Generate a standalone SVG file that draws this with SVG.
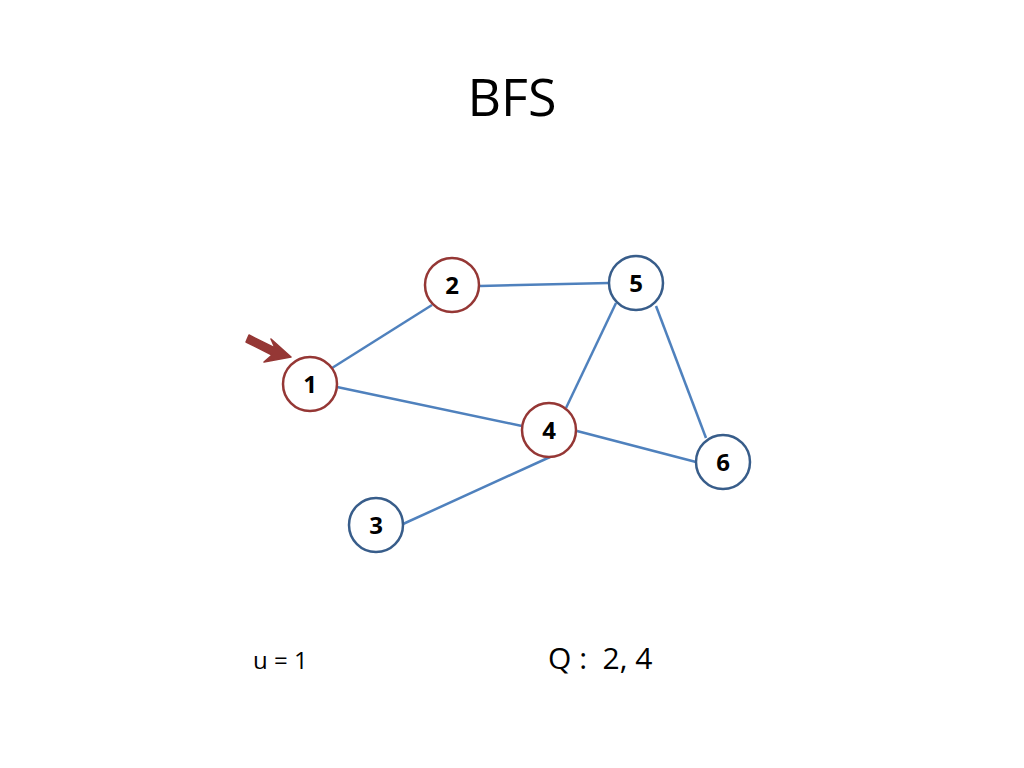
<svg xmlns="http://www.w3.org/2000/svg" width="1024" height="768" viewBox="0 0 1024 768">
<style>
.n{fill:#fff;stroke-width:2.5}
.r{stroke:#953735}
.b{stroke:#385D8A}
.lbl{font-family:"Open Sans","Liberation Sans",sans-serif;font-weight:bold;font-size:24px;text-anchor:middle;fill:#000}
.e{stroke:#4F81BD;stroke-width:2.5;fill:none}
.t{font-family:"Open Sans","Liberation Sans",sans-serif;fill:#000;white-space:pre}
</style>
<rect width="1024" height="768" fill="#fff"/>
<text class="t" x="512" y="116" font-size="52" text-anchor="middle">BFS</text>
<g id="connectors">
<line class="e" x1="332" y1="368" x2="432" y2="305"/>
<line class="e" x1="337" y1="387" x2="522" y2="426"/>
<line class="e" x1="480" y1="286" x2="609" y2="283"/>
<line class="e" x1="616" y1="303" x2="566" y2="408"/>
<line class="e" x1="656" y1="306" x2="706" y2="438"/>
<line class="e" x1="577" y1="431" x2="696" y2="462"/>
<line class="e" x1="403" y1="524" x2="550" y2="457"/>
</g>
<g id="pointer">
<path d="M249 335 L275 348 L271 339 L291 357 L264 362 L272 355 L246 342 Z" fill="#953735" stroke="#953735" stroke-width="1.5" stroke-linejoin="round"/>
</g>
<g id="node1"><circle class="n r" cx="310" cy="384" r="27"/><text class="lbl" x="310" y="393">1</text></g>
<g id="node2"><circle class="n r" cx="452" cy="285" r="27"/><text class="lbl" x="452" y="294">2</text></g>
<g id="node3"><circle class="n b" cx="376" cy="525" r="27"/><text class="lbl" x="376" y="534">3</text></g>
<g id="node4"><circle class="n r" cx="549" cy="430" r="27"/><text class="lbl" x="549" y="439">4</text></g>
<g id="node5"><circle class="n b" cx="636" cy="283" r="27"/><text class="lbl" x="636" y="292">5</text></g>
<g id="node6"><circle class="n b" cx="723" cy="462" r="27"/><text class="lbl" x="723" y="471">6</text></g>
<text class="t" x="253" y="669" font-size="24" xml:space="preserve">u = 1</text>
<text class="t" x="548" y="669" font-size="30" xml:space="preserve">Q :  2, 4</text>
</svg>
